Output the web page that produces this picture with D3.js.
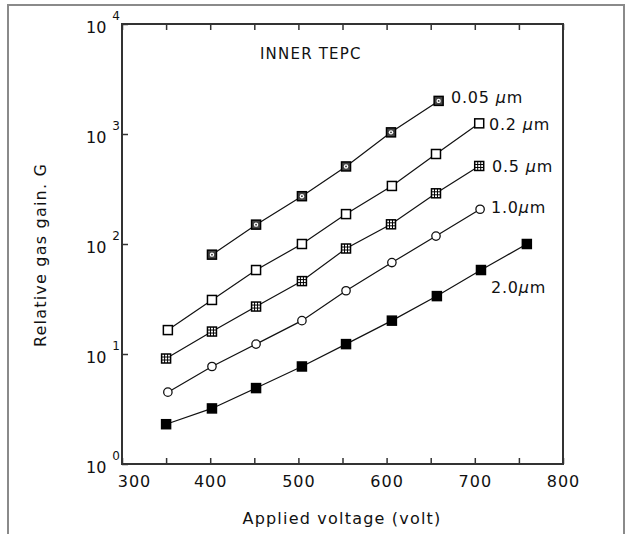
<!DOCTYPE html>
<html>
<head>
<meta charset="utf-8">
<script src="https://cdn.jsdelivr.net/npm/d3@7"></script>
<style>
  body { margin: 0; background: #fff; }
  svg text { font-family: "DejaVu Sans", sans-serif; fill: #111; }
</style>
</head>
<body>
<div id="chart"></div>
<script>
// values (voltage in volt, gain G)
const series = ['0.05', '0.2', '0.5', '1.0', '2.0'];

const volt005 = [402, 452, 504, 554, 605, 659];
const gain005 = [80, 150, 272, 507, 1035, 2000];

const volt02 = [352, 402, 452, 504, 554, 606, 656, 705];
const gain02 = [16.5, 31, 58, 100, 187, 337, 658, 1250];

const volt05 = [350, 402, 452, 504, 554, 605, 656, 705];
const gain05 = [9.1, 16, 27, 46, 91, 151, 289, 512];

const volt10 = [352, 402, 452, 504, 554, 606, 656, 706];
const gain10 = [4.5, 7.7, 12.3, 20.1, 37.6, 67.8, 118, 207];

const volt20 = [350, 402, 452, 504, 554, 606, 657, 707, 759];
const gain20 = [2.3, 3.2, 4.9, 7.7, 12.3, 20.1, 33.6, 58, 100];

const xTicks = [300, 350, 400, 450, 500, 550, 600, 650, 700, 750, 800];
const yTicks = [1, 10, 100, 1000, 10000];

const w = 626;
const h = 534;

const svg = d3.select('#chart')
  .append('svg')
  .attr('width', w)
  .attr('height', h);

// grey picture border
svg.append('rect')
  .attr('x', 8).attr('y', 5)
  .attr('width', 616).attr('height', 540)
  .attr('fill', 'none')
  .attr('stroke', '#8a8a8a')
  .attr('stroke-width', 2);

const xScale = d3.scaleLinear().domain([300, 800]).range([122, 563]);
const yScale = d3.scaleLog().domain([1, 10000]).range([464, 24]);

// frame
svg.append('rect')
  .attr('x', xScale(300)).attr('y', yScale(10000))
  .attr('width', xScale(800) - xScale(300))
  .attr('height', yScale(1) - yScale(10000))
  .attr('fill', 'none')
  .attr('stroke', '#333')
  .attr('stroke-width', 2);

const xAxis = d3.axisBottom(xScale)
  .tickValues(xTicks)
  .tickSizeInner(-6)
  .tickSizeOuter(0)
  .tickPadding(12)
  .tickFormat(d => d % 100 === 0 ? d : '');

const gx = svg.append('g')
  .attr('transform', `translate(0, ${yScale(1)})`)
  .call(xAxis);
gx.select('.domain').remove();
gx.selectAll('.tick line').attr('stroke', '#333').attr('stroke-width', 1.5);
gx.selectAll('.tick text')
  .attr('font-size', 16)
  .attr('letter-spacing', 1)
  .attr('dx', d => d === 300 ? 12 : 0);

const xTop = d3.axisTop(xScale)
  .tickValues(xTicks)
  .tickSizeInner(-6)
  .tickSizeOuter(0)
  .tickFormat('');
const gt = svg.append('g')
  .attr('transform', `translate(0, ${yScale(10000)})`)
  .call(xTop);
gt.select('.domain').remove();
gt.selectAll('.tick line').attr('stroke', '#333').attr('stroke-width', 1.5);

const yAxis = d3.axisLeft(yScale)
  .tickValues(yTicks)
  .tickSizeInner(-6)
  .tickSizeOuter(0)
  .tickFormat('');
const gy = svg.append('g')
  .attr('transform', `translate(${xScale(300)}, 0)`)
  .call(yAxis);
gy.select('.domain').remove();
gy.selectAll('.tick line').attr('stroke', '#333').attr('stroke-width', 1.5);

// 10^n labels, exponent as a raised tspan
gy.selectAll('.tick').each(function (d) {
  const t = d3.select(this).append('text')
    .attr('x', -36)
    .attr('y', 8)
    .attr('text-anchor', 'start')
    .attr('font-size', 16)
    .text('10');
  t.append('tspan')
    .attr('dx', 6)
    .attr('dy', -13)
    .attr('font-size', 12)
    .text(Math.round(Math.log10(d)));
});

// axis titles
svg.append('text')
  .attr('x', 342).attr('y', 524)
  .attr('text-anchor', 'middle')
  .attr('font-size', 16)
  .attr('letter-spacing', 1.2)
  .text('Applied voltage (volt)');

svg.append('text')
  .attr('transform', 'translate(46, 255) rotate(-90)')
  .attr('text-anchor', 'middle')
  .attr('font-size', 16)
  .attr('letter-spacing', 1.2)
  .text('Relative gas gain. G');

svg.append('text')
  .attr('x', 260).attr('y', 59)
  .attr('font-size', 15)
  .attr('letter-spacing', 1.2)
  .text('INNER TEPC');

// series
const data = [
  { name: '0.05', v: volt005, g: gain005, mark: 'dotbox', lx: 451, ly: 103, sp: true },
  { name: '0.2', v: volt02, g: gain02, mark: 'open', lx: 489, ly: 130, sp: true },
  { name: '0.5', v: volt05, g: gain05, mark: 'grid', lx: 492, ly: 172, sp: true },
  { name: '1.0', v: volt10, g: gain10, mark: 'circle', lx: 491, ly: 213, sp: false },
  { name: '2.0', v: volt20, g: gain20, mark: 'filled', lx: 491, ly: 293, sp: false }
];

const line = d3.line()
  .x(d => xScale(d[0]))
  .y(d => yScale(d[1]));

data.forEach(s => {
  const pts = s.v.map((v, i) => [v, s.g[i]]);

  svg.append('path')
    .datum(pts)
    .attr('d', line)
    .attr('fill', 'none')
    .attr('stroke', '#111')
    .attr('stroke-width', 1.2);

  const m = svg.append('g').selectAll('g')
    .data(pts)
    .enter()
    .append('g')
    .attr('transform', d => `translate(${xScale(d[0])}, ${yScale(d[1])})`);

  const r = 4.5;
  if (s.mark === 'circle') {
    m.append('circle').attr('r', 4.2)
      .attr('fill', '#fff').attr('stroke', '#111').attr('stroke-width', 1.3);
  } else {
    m.append('rect')
      .attr('x', -r).attr('y', -r)
      .attr('width', 2 * r).attr('height', 2 * r)
      .attr('fill', s.mark === 'filled' ? '#000' : (s.mark === 'dotbox' ? '#444' : '#fff'))
      .attr('stroke', '#000')
      .attr('stroke-width', 1.5);
    if (s.mark === 'grid') {
      [-1.5, 1.5].forEach(o => {
        m.append('line').attr('x1', o).attr('x2', o).attr('y1', -r).attr('y2', r)
          .attr('stroke', '#000').attr('stroke-width', 1);
        m.append('line').attr('y1', o).attr('y2', o).attr('x1', -r).attr('x2', r)
          .attr('stroke', '#000').attr('stroke-width', 1);
      });
    }
    if (s.mark === 'dotbox') {
      m.append('circle').attr('r', 2.2).attr('fill', '#fff');
      m.append('circle').attr('r', 0.9).attr('fill', '#333');
    }
  }

  const lab = svg.append('text')
    .attr('x', s.lx).attr('y', s.ly)
    .attr('font-size', 16)
    .attr('letter-spacing', 0.8);
  lab.append('tspan').text(s.name + (s.sp ? ' ' : ''));
  lab.append('tspan').attr('font-style', 'italic').text('µ');
  lab.append('tspan').text('m');
});
</script>
</body>
</html>
